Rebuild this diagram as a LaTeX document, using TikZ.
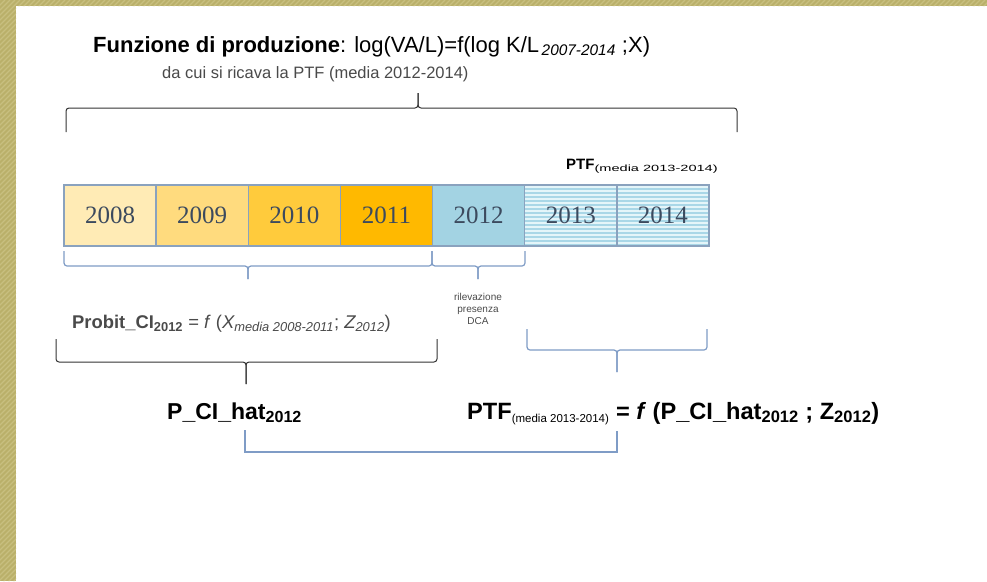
\documentclass[tikz,border=0pt]{standalone}
\usepackage{fontspec}
\setmainfont{Liberation Sans}
\newfontfamily\yearfont{Liberation Serif}
\usetikzlibrary{calc}
\definecolor{borderolive}{HTML}{BAB06A}
\definecolor{stripeolive}{HTML}{C8BF80}
\definecolor{y08}{HTML}{FFEBB5}
\definecolor{y09}{HTML}{FFDB7E}
\definecolor{y10}{HTML}{FFCB3C}
\definecolor{y11}{HTML}{FFB900}
\definecolor{y12}{HTML}{A3D3E3}
\definecolor{y13}{HTML}{E4F5F9}
\definecolor{stripeblue}{HTML}{A9D7E7}
\definecolor{boxline}{HTML}{8AA2BE}
\definecolor{yeartext}{HTML}{3C4A5E}
\definecolor{bracecol}{HTML}{7F9CC6}
\definecolor{darkbrace}{HTML}{333333}
\definecolor{graytext}{HTML}{4A4A4A}
\newcommand\mybrace[7]{%
  \draw[#1] (#2,#5) |- (#4,#6) -- (#4,#7);
  \draw[#1] (#3,#5) |- (#4,#6) -- (#4,#7);}
\begin{document}
\begin{tikzpicture}[x=1pt,y=-1pt,
  yearbox/.style={draw=boxline,line width=1.4pt,minimum width=92.14pt,minimum height=61pt,
    inner sep=0pt,outer sep=0pt,font=\yearfont\fontsize{25}{28}\selectfont,text=yeartext},
  bluebrace/.style={draw=bracecol,line width=1.2pt,rounded corners=3pt},
  blackbrace/.style={draw=darkbrace,line width=1pt,rounded corners=3pt},
  conn/.style={draw=bracecol,line width=1.2pt}]
\useasboundingbox (0,0) rectangle (987,581);
\fill[white] (0,0) rectangle (987,581);
% border
\fill[borderolive] (0,0) rectangle (987,6);
\fill[borderolive] (0,0) rectangle (16,581);
\begin{scope}
\clip (0,0) rectangle (987,6) (0,0) rectangle (16,581);
\foreach \i in {-600,-595,...,1000} \draw[stripeolive,line width=1.2pt] (\i,600) -- ++(600,-600);
\end{scope}
% title
\node[anchor=base west,inner sep=0pt] (title) at (93,52)
  {\fontsize{22}{26}\selectfont\textbf{Funzione di produzione}: log(VA/L)=f(log K/L\textsubscript{\itshape\,2007-2014} ;X)};
\node[anchor=base west,inner sep=0pt,text=graytext] (sub) at (162,78)
  {\fontsize{16.5}{19}\selectfont da cui si ricava la PTF (media 2012-2014)};
\mybrace{blackbrace}{66}{737}{418}{132}{108}{93}
% PTF label
\node[anchor=base west,inner sep=0pt] (ptftop) at (566,169)
  {\fontsize{15}{17}\selectfont\textbf{PTF}\scalebox{1.62}[1]{\textsubscript{\fontsize{9}{10}\selectfont(media 2013-2014)}}};
% boxes
\node[yearbox,fill=y08] (y2008) at ({64+92.14*0.5},215.5) {2008};
\node[yearbox,fill=y09] (y2009) at ({64+92.14*1.5},215.5) {2009};
\node[yearbox,fill=y10] (y2010) at ({64+92.14*2.5},215.5) {2010};
\node[yearbox,fill=y11] (y2011) at ({64+92.14*3.5},215.5) {2011};
\node[yearbox,fill=y12] (y2012) at ({64+92.14*4.5},215.5) {2012};
\foreach \yr/\k in {2013/5.5,2014/6.5}{
\node[yearbox,fill=y13,path picture={
  \foreach \s in {1,...,15}{\draw[stripeblue,line width=1.3pt]
   ([yshift=-\s*4pt]path picture bounding box.north west) -- ([yshift=-\s*4pt]path picture bounding box.north east);}
 }] (y\yr) at ({64+92.14*\k},215.5) {\yr};}
% braces under boxes
\mybrace{bluebrace}{64}{432}{248}{251}{266}{279}
\mybrace{bluebrace}{432}{525}{478}{251}{266}{279}
\node[align=center,text=graytext,inner sep=0pt,font=\fontsize{10}{12}\selectfont] (ril) at (478,309)
  {rilevazione\\presenza\\DCA};
% probit
\node[anchor=base west,inner sep=0pt,text=graytext] (probit) at (72,328)
  {\fontsize{18.4}{21}\selectfont\textbf{Probit\_CI\textsubscript{2012}} = \textit{f} (\textit{X\textsubscript{media 2008-2011}}; \textit{Z\textsubscript{2012}})};
\mybrace{blackbrace}{56}{437}{246}{339}{362}{384}
\mybrace{bluebrace}{527}{707}{617}{329}{350}{372}
% bottom formulas
\node[anchor=base west,inner sep=0pt] (hat) at (167,419)
  {\fontsize{23}{27}\selectfont\textbf{P\_CI\_hat\textsubscript{2012}}};
\node[anchor=base west,inner sep=0pt] (ptfeq) at (467,419)
  {\fontsize{23.6}{27}\selectfont\textbf{PTF\textsubscript{\mdseries\fontsize{11.5}{13}\selectfont(media 2013-2014)} = \textit{f} (P\_CI\_hat\textsubscript{2012} ; Z\textsubscript{2012})}};
\coordinate (hatout) at (245,430);
\coordinate (ptfin) at (617,431);
\draw[conn] (hatout) |- (ptfin |- 0,452) -- (ptfin);
\end{tikzpicture}
\end{document}
